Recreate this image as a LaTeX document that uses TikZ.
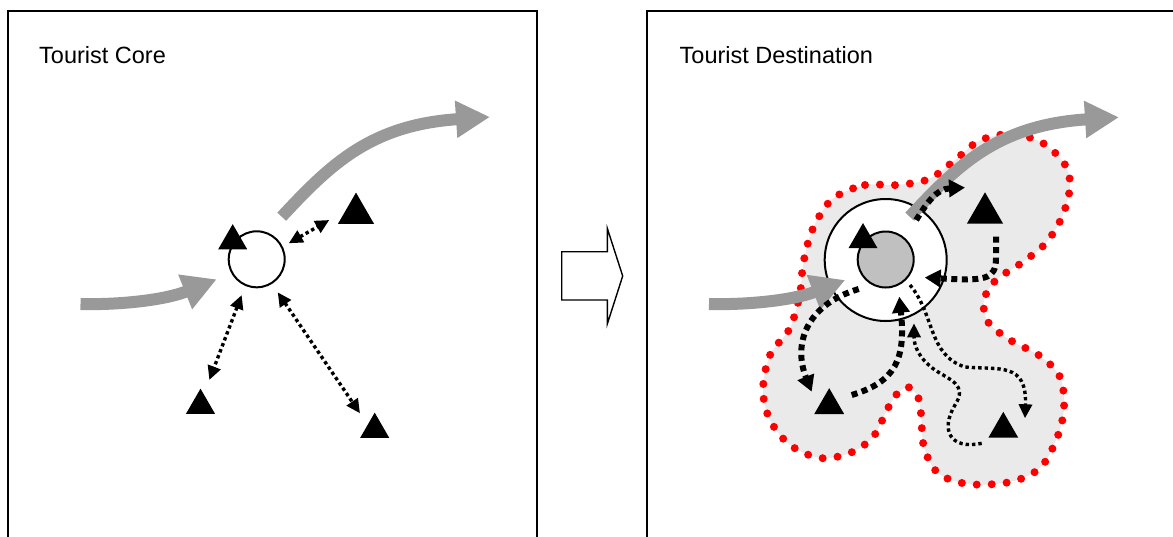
\documentclass[tikz,border=0pt]{standalone}
\usepackage{fontspec}
\setmainfont{Liberation Sans}
\usetikzlibrary{arrows.meta,shapes.geometric,calc}
\definecolor{flowgray}{HTML}{999999}
\definecolor{blobgray}{HTML}{EAEAEA}
\definecolor{coregray}{HTML}{C0C0C0}
\definecolor{dotred}{HTML}{FF0000}
\begin{document}
\begin{tikzpicture}[x=1pt,y=-1pt,
  panel/.style={draw=black,line width=1.8pt},
  paneltitle/.style={anchor=base west,inner sep=0pt,font=\fontsize{23.5pt}{28pt}\selectfont},
  tri/.style={regular polygon,regular polygon sides=3,fill=black,inner sep=0pt,outer sep=0pt},
  smalltri/.style={tri,minimum size=33.5pt},
  bigtri/.style={tri,minimum size=41.6pt},
  ring/.style={circle,draw=black,line width=2pt,inner sep=0pt},
  flowarrow/.style={draw=flowgray,line width=12pt,-{Triangle[length=34pt,width=35pt]}},
  dotlink/.style={line width=3.4pt,dash pattern=on 3.4pt off 3pt},
  twotip/.style={{Triangle[length=14pt,width=13pt]}-{Triangle[length=14pt,width=13pt]}},
  onetip/.style={-{Triangle[length=14pt,width=13pt]}},
  dashlink/.style={line width=6pt,dash pattern=on 6pt off 4.5pt,-{Triangle[length=16pt,width=17pt]}},
  blobfill/.style={fill=blobgray},
  blobedge/.style={draw=dotred,line width=8pt,line cap=round,dash pattern=on 0pt off 15pt},
  blockarrow/.style={draw=black,line width=1.4pt,fill=white,line join=miter}
]
\useasboundingbox (0,0) rectangle (1173,536);

% panels
\draw[panel] (8,11) rectangle (537,560);
\draw[panel] (646.7,11) rectangle (1190,560);
\node[paneltitle] (tleft) at (39,63.3) {Tourist Core};
\node[paneltitle] (tright) at (679.5,63.3) {Tourist Destination};

% middle block arrow
\draw[blockarrow] (561.7,251.7) -- (607.3,251.7) -- (607.3,228.3) -- (622.7,276)
  -- (607.3,324) -- (607.3,300) -- (561.7,300) -- cycle;

% ---------- left panel ----------
\node[ring,minimum size=56pt] (lc) at (256.7,259.3) {};
\node[smalltri] (lt0) at (232.7,240.9) {};
\node[bigtri] (lt1) at (356,213.4) {};
\node[smalltri] (lt2) at (200.5,405.4) {};
\node[smalltri] (lt3) at (374.7,429.4) {};

\coordinate (lin) at (80.5,304);
\coordinate (lout) at (490,117);
\draw[flowarrow] (lin) .. controls (120,305) and (165,300) .. ($(lc)+(-40,20)$);
\draw[flowarrow] ($(lc)+(25,-42.6)$) .. controls (330,165) and (370,125) .. (lout);

\draw[dotlink,twotip] ($(lc)+(32,-16)$) -- ($(lt1)+(-26.7,6.6)$);
\draw[dotlink,twotip] ($(lc)+(-15,35.7)$) -- ($(lt2)+(8.8,-25.4)$);
\draw[dotlink,twotip] ($(lc)+(21,33)$) -- ($(lt3)+(-14.7,-16.1)$);

% ---------- right panel ----------
\fill[blobfill] plot[smooth cycle,tension=0.55] coordinates {
 (835,197) (865,185) (897,185) (929,179) (954,161) (979,141) (1010,134) (1041,142)
 (1064,163) (1070,186) (1062,217) (1045,244) (1020,264) (996,280) (984,300) (988,322)
 (1010,340) (1040,356) (1060,377) (1064,408) (1057,438) (1040,468) (1010,482) (968,484)
 (938,473) (924,447) (921,414) (918,397) (908,387) (896,395) (887,410) (873,437)
 (850,453) (820,458) (790,445) (770,420) (763,390) (770,355) (790,328) (800,293)
 (803,265) (810,236) (820,215)};
\draw[blobedge] plot[smooth cycle,tension=0.55] coordinates {
 (835,197) (865,185) (897,185) (929,179) (954,161) (979,141) (1010,134) (1041,142)
 (1064,163) (1070,186) (1062,217) (1045,244) (1020,264) (996,280) (984,300) (988,322)
 (1010,340) (1040,356) (1060,377) (1064,408) (1057,438) (1040,468) (1010,482) (968,484)
 (938,473) (924,447) (921,414) (918,397) (908,387) (896,395) (887,410) (873,437)
 (850,453) (820,458) (790,445) (770,420) (763,390) (770,355) (790,328) (800,293)
 (803,265) (810,236) (820,215)};

\node[ring,fill=white,minimum size=122pt] (rc) at (885.7,260) {};
\node[ring,fill=coregray,minimum size=56pt] (rcore) at (885.7,259.5) {};
\node[smalltri] (rt0) at (863,239.8) {};
\node[bigtri] (rt1) at (985,213.1) {};
\node[smalltri,minimum size=34.5pt] (rt2) at (829.2,405.4) {};
\node[smalltri,minimum size=34.5pt] (rt3) at (1003.3,429.1) {};

\coordinate (rin) at (709,304);
\coordinate (rout) at (1119,117.3);
\draw[flowarrow] (rin) .. controls (749,305) and (794,300) .. ($(rc)+(-40.5,20)$);
\draw[flowarrow] ($(rc)+(24,-43.3)$) .. controls (958,165) and (998,125) .. (rout);

% thick dashed links
\draw[dashlink] ($(rc)+(30.5,-40)$) .. controls (927,203) and (936,189) .. ($(rt1)+(-20,-25.5)$);
\draw[dashlink] ($(rt1)+(11,23.5)$) -- (996,258) .. controls (996,280) and (985,281) .. ($(rc)+(39,17.5)$);
\draw[dashlink] ($(rc)+(-27,29)$) .. controls (805,305) and (793,345) .. ($(rt2)+(-17.5,-13.7)$);
\draw[dashlink] ($(rt2)+(22.5,-10.4)$) .. controls (895,382) and (906,360) .. ($(rc)+(13.6,36.7)$);

% thin dotted links
\draw[dotlink,onetip] ($(rc)+(24.3,25)$) .. controls (935,315) and (928,355) .. (965,367)
  .. controls (1000,370) and (1027,362) .. ($(rt3)+(21.7,-10.8)$);
\draw[dotlink,onetip] ($(rt3)+(-21.6,14.2)$) .. controls (950,450) and (940,430) .. (955,405)
  .. controls (968,385) and (950,380) .. (935,370)
  .. controls (918,358) and (914,345) .. ($(rc)+(28.3,63.3)$);
\end{tikzpicture}
\end{document}
